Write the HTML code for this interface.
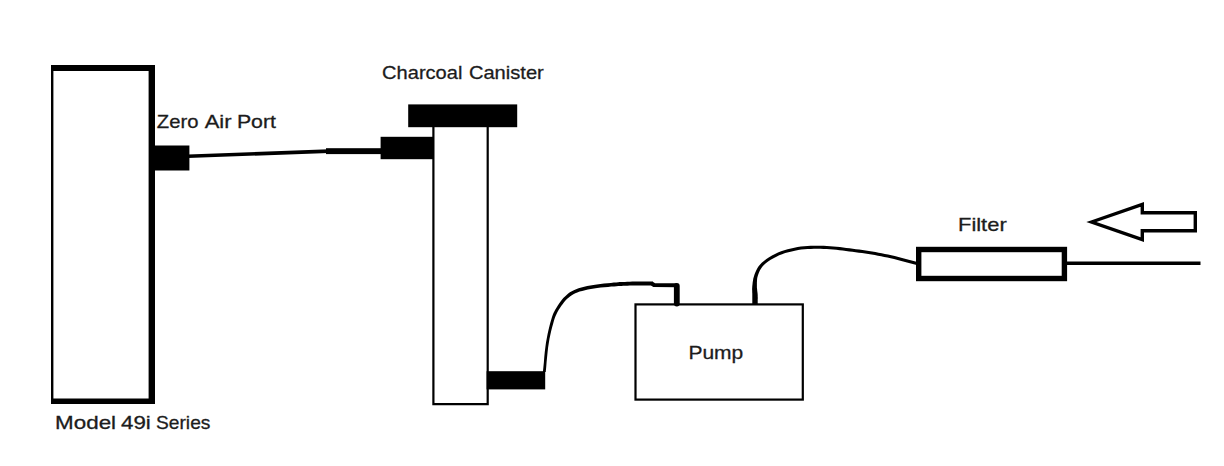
<!DOCTYPE html>
<html lang="en">
<head>
<meta charset="utf-8">
<title>Zero Air Supply Diagram</title>
<style>
  html, body { margin: 0; padding: 0; background: #ffffff; }
  body { width: 1224px; height: 466px; overflow: hidden; }
  svg { display: block; }
  text { font-family: "Liberation Sans", sans-serif; font-size: 19px; fill: #1c1c1c; stroke: #1c1c1c; stroke-width: 0.3px; }
</style>
</head>
<body>
<svg width="1224" height="466" viewBox="0 0 1224 466">
  <rect x="0" y="0" width="1224" height="466" fill="#ffffff"/>

  <!-- Model 49i box -->
  <g fill="#000">
    <rect x="51" y="65" width="104" height="6"/>
    <rect x="51" y="398.5" width="104" height="5.5"/>
    <rect x="51" y="65" width="2.4" height="339"/>
    <rect x="148.6" y="65" width="6.4" height="339"/>
  </g>
  <!-- Zero air port -->
  <rect x="154" y="145.5" width="35.4" height="25" fill="#000"/>
  <!-- line to canister -->
  <line x1="188" y1="156.3" x2="329" y2="151.1" stroke="#000" stroke-width="3.6"/>
  <rect x="326" y="148.2" width="56" height="5.9" fill="#000"/>

  <!-- Charcoal canister -->
  <rect x="408.2" y="104.4" width="109" height="22.8" fill="#000"/>
  <rect x="380.6" y="136.8" width="53" height="22.4" fill="#000"/>
  <path d="M433.4 126 V404.2 H487.7 V126" fill="none" stroke="#000" stroke-width="2.2"/>
  <rect x="486.6" y="371.2" width="58.6" height="18.2" fill="#000"/>

  <!-- tube canister -> pump -->
  <path d="M545.7 372.1 L546.2 367.2 L546.6 362.1 L547.1 357.1 L547.6 352.1 L548.1 347.4 L548.8 342.9 L549.5 338.7 L550.4 334.5 L551.3 330.6 L552.2 326.9 L553.2 323.5 L554.0 320.5 L554.8 318.0 L555.6 316.0 L556.3 314.4 L557.0 312.9 L557.9 311.3 L558.9 309.6 L560.1 307.7 L561.4 305.8 L562.8 303.9 L564.2 302.0 L565.7 300.3 L567.2 298.8 L568.8 297.4 L570.3 296.2 L571.8 295.2 L573.4 294.2 L575.3 293.3 L577.3 292.4 L579.7 291.6 L582.2 290.9 L585.0 290.2 L587.9 289.6 L590.9 289.0 L594.0 288.5 L597.2 288.1 L600.8 287.6 L604.4 287.3 L608.0 286.9 L611.3 286.6 L614.2 286.4 L616.5 286.2 L618.3 286.1 L619.9 286.0 L621.5 285.9 L623.1 285.8 L625.1 285.7 L627.4 285.7 L629.8 285.6 L632.4 285.6 L635.0 285.5 L637.6 285.5 L640.0 285.5 L642.3 285.5 L644.5 285.5 L646.6 285.5 L648.7 285.6 L650.8 285.6 L653.0 285.6 L653.0 281.6 L650.9 281.6 L648.8 281.6 L646.6 281.5 L644.5 281.5 L642.3 281.5 L640.0 281.5 L637.5 281.5 L635.0 281.6 L632.3 281.6 L629.7 281.7 L627.2 281.8 L624.9 281.9 L623.0 281.9 L621.3 282.0 L619.7 282.1 L618.1 282.2 L616.2 282.4 L613.8 282.6 L610.9 282.9 L607.6 283.2 L604.0 283.5 L600.4 283.9 L596.8 284.4 L593.4 284.9 L590.3 285.4 L587.2 286.0 L584.2 286.7 L581.3 287.4 L578.6 288.3 L576.1 289.2 L573.8 290.2 L571.8 291.2 L569.9 292.3 L568.2 293.6 L566.6 294.9 L565.0 296.4 L563.3 298.1 L561.7 300.0 L560.2 302.0 L558.8 304.0 L557.5 306.0 L556.3 308.0 L555.2 309.8 L554.3 311.4 L553.5 313.1 L552.7 314.9 L552.0 317.1 L551.2 319.7 L550.3 322.7 L549.4 326.2 L548.5 329.9 L547.6 334.0 L546.8 338.2 L546.0 342.5 L545.4 347.0 L544.8 351.8 L544.3 356.8 L543.9 361.9 L543.4 366.9 L542.9 371.9Z" fill="#000"/>
  <path d="M652 283.6 L654 285 L677 285.2" fill="none" stroke="#000" stroke-width="4" stroke-linejoin="round"/>
  <path d="M676.8 286 V303.5" stroke="#000" stroke-width="5.8" stroke-linecap="round" fill="none"/>

  <!-- Pump box -->
  <rect x="635.5" y="304.4" width="167.3" height="95.2" fill="none" stroke="#000" stroke-width="2.2"/>

  <!-- tube pump -> filter -->
  <path d="M757.7 304.0 L757.7 302.5 L757.7 301.0 L757.7 299.5 L757.8 298.0 L757.7 296.5 L757.7 294.9 L757.6 293.4 L757.4 291.9 L757.2 290.4 L757.1 289.0 L756.9 287.6 L756.9 286.1 L756.9 284.4 L756.9 282.6 L757.0 280.9 L757.1 279.1 L757.4 277.3 L757.9 275.6 L758.5 273.8 L759.2 271.9 L760.0 270.2 L761.1 268.4 L762.3 266.7 L763.9 265.0 L765.8 263.3 L768.1 261.6 L770.7 259.8 L773.5 258.2 L776.4 256.7 L779.2 255.3 L782.1 254.2 L785.2 253.1 L788.4 252.2 L791.7 251.4 L794.9 250.7 L798.2 250.1 L801.3 249.6 L804.5 249.3 L807.6 249.0 L810.8 248.9 L814.0 248.8 L817.2 248.7 L820.4 248.8 L823.6 248.9 L826.8 249.1 L829.9 249.3 L833.1 249.6 L836.4 249.8 L839.6 250.2 L842.7 250.5 L846.0 250.9 L849.2 251.4 L852.4 251.8 L855.6 252.2 L858.8 252.7 L862.0 253.1 L865.2 253.6 L868.4 254.1 L871.6 254.6 L874.8 255.1 L878.0 255.7 L881.1 256.3 L884.2 256.9 L887.4 257.6 L890.6 258.3 L894.0 259.1 L897.6 260.0 L901.3 260.9 L905.1 261.9 L908.9 263.0 L912.8 264.0 L916.6 265.0 L917.4 262.0 L913.6 261.0 L909.7 260.0 L905.9 258.9 L902.1 257.9 L898.4 257.0 L894.8 256.1 L891.3 255.3 L888.1 254.6 L884.9 253.9 L881.7 253.3 L878.6 252.7 L875.4 252.1 L872.1 251.5 L868.9 251.0 L865.7 250.5 L862.5 250.1 L859.2 249.6 L856.0 249.2 L852.8 248.7 L849.6 248.3 L846.3 247.9 L843.1 247.4 L839.9 247.1 L836.6 246.8 L833.4 246.5 L830.2 246.2 L826.9 246.0 L823.7 245.8 L820.4 245.7 L817.2 245.7 L814.0 245.7 L810.7 245.8 L807.5 246.0 L804.2 246.2 L800.9 246.6 L797.6 247.1 L794.3 247.7 L791.0 248.4 L787.6 249.2 L784.3 250.2 L781.1 251.2 L778.0 252.5 L775.0 253.9 L772.0 255.5 L769.1 257.2 L766.4 259.1 L763.9 260.9 L761.7 262.8 L759.9 264.7 L758.4 266.6 L757.2 268.6 L756.2 270.6 L755.3 272.5 L754.5 274.4 L753.9 276.4 L753.3 278.4 L753.0 280.4 L752.7 282.3 L752.5 284.2 L752.3 285.9 L752.2 287.6 L752.1 289.3 L752.2 290.8 L752.2 292.3 L752.3 293.7 L752.3 295.1 L752.3 296.5 L752.3 298.0 L752.3 299.5 L752.3 301.0 L752.3 302.5 L752.3 304.0Z" fill="#000"/>

  <!-- Filter -->
  <rect x="918.7" y="249.5" width="145.7" height="29" fill="none" stroke="#000" stroke-width="5.4"/>
  <line x1="1066" y1="263.3" x2="1200.5" y2="263.3" stroke="#000" stroke-width="3.4"/>

  <!-- Arrow -->
  <path d="M1091.5 222 L1142.3 204.4 V212.7 H1195.3 V230.8 H1142.3 V239.6 Z" fill="none" stroke="#000" stroke-width="3.4" stroke-linejoin="miter"/>

  <!-- Labels -->
  <g>
    <text x="156.8" y="128.4" textLength="41.6" lengthAdjust="spacingAndGlyphs">Zero</text>
    <text x="204.7" y="128.4" textLength="26.9" lengthAdjust="spacingAndGlyphs">Air</text>
    <text x="236.9" y="128.4" textLength="39.1" lengthAdjust="spacingAndGlyphs">Port</text>
  </g>
  <g>
    <text x="382.1" y="78.7" textLength="80.3" lengthAdjust="spacingAndGlyphs">Charcoal</text>
    <text x="468.9" y="78.7" textLength="74.9" lengthAdjust="spacingAndGlyphs">Canister</text>
  </g>
  <g>
    <text x="55.1" y="428.9" textLength="61.0" lengthAdjust="spacingAndGlyphs">Model</text>
    <text x="121.0" y="428.9" textLength="29.8" lengthAdjust="spacingAndGlyphs">49i</text>
    <text x="156.0" y="428.9" textLength="54.4" lengthAdjust="spacingAndGlyphs">Series</text>
  </g>
  <text x="688.4" y="358.9" textLength="54.9" lengthAdjust="spacingAndGlyphs">Pump</text>
  <text x="958.0" y="231.3" textLength="48.7" lengthAdjust="spacingAndGlyphs">Filter</text>
</svg>
</body>
</html>
